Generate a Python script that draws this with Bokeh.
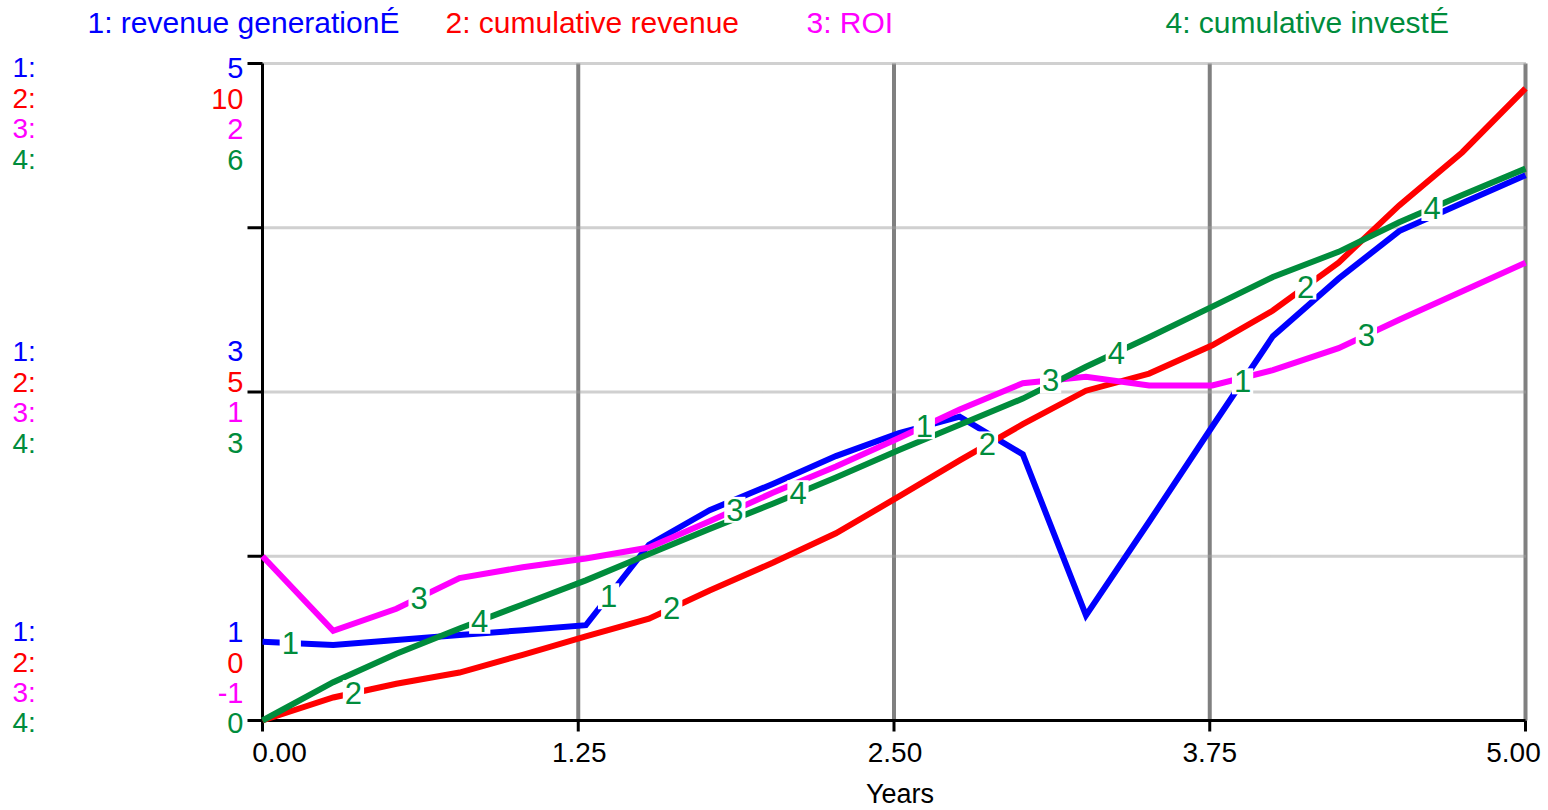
import numpy as np
from bokeh.plotting import figure
from bokeh.models import Range1d
from bokeh.core.properties import value
from bokeh.embed import file_html
from bokeh.resources import INLINE

FONT = "Liberation Sans"
BLUE, RED, MAGENTA, GREEN = "#0000ff", "#ff0000", "#ff00ff", "#008c3c"

# simulation output, one value per reporting step
years = [0.0, 0.28, 0.53, 0.78, 1.03, 1.28, 1.53, 1.77, 2.02, 2.27, 2.52,
         2.76, 3.01, 3.26, 3.51, 3.76, 4.0, 4.26, 4.5, 4.75, 5.0]
revenue_generation = [1.48, 1.46, 1.49, 1.52, 1.55, 1.58, 2.07, 2.28, 2.44, 2.61, 2.75,
                      2.85, 2.62, 1.64, 2.21, 2.79, 3.34, 3.69, 3.98, 4.15, 4.32]
cumulative_revenue = [0.0, 0.35, 0.56, 0.73, 1.0, 1.28, 1.55, 1.98, 2.40, 2.85, 3.41,
                      3.96, 4.51, 5.02, 5.28, 5.71, 6.24, 6.97, 7.84, 8.65, 9.62]
roi = [-0.25, -0.59, -0.49, -0.35, -0.30, -0.26, -0.21, -0.09, 0.04, 0.16, 0.29,
       0.42, 0.54, 0.57, 0.53, 0.53, 0.60, 0.70, 0.83, 0.96, 1.09]
cumulative_investment = [0.0, 0.35, 0.61, 0.84, 1.06, 1.28, 1.52, 1.75, 1.98, 2.22, 2.47,
                         2.70, 2.94, 3.23, 3.50, 3.78, 4.05, 4.28, 4.55, 4.80, 5.04]

series_titles = ["1: revenue generationÉ", "2: cumulative revenue", "3: ROI", "4: cumulative investÉ"]
series_keys = ["1:", "2:", "3:", "4:"]
series_colors = [BLUE, RED, MAGENTA, GREEN]
series_values = [revenue_generation, cumulative_revenue, roi, cumulative_investment]
series_scales = [(1, 5), (0, 10), (-1, 2), (0, 6)]
range_names = ["default", "cumrev", "roi", "inv"]
# scale labels shown at the top, middle and bottom of the vertical axis
scale_labels = [["5", "3", "1"], ["10", "5", "0"], ["2", "1", "-1"], ["6", "3", "0"]]
# where each curve carries its number tag (years)
tag_years = [[0.11, 1.37, 2.62, 3.88],
             [0.36, 1.62, 2.87, 4.13],
             [0.62, 1.87, 3.12, 4.37],
             [0.86, 2.12, 3.38, 4.63]]

x_ticks = [0.0, 1.25, 2.5, 3.75, 5.0]
x_tick_labels = ["0.00", "1.25", "2.50", "3.75", "5.00"]
y_ticks = [1, 2, 3, 4, 5]
scale_rows = [5, 3, 1]

# page geometry (pixels): the plotting area sits inside a full-canvas frame
W, H = 1548, 810
LEFT, RIGHT, TOP, BOTTOM = 262, 1525, 63, 720


def padded(lo, hi, a0, a1, b0, b1):
    """Range whose [lo, hi] lands on pixel span [a0, b0] of a canvas [a1, b1]."""
    per_px = (hi - lo) / (b0 - a0)
    return Range1d(lo - (a0 - a1) * per_px, hi + (b1 - b0) * per_px)


x_range = padded(0, 5, LEFT, 0, RIGHT, W)
y_ranges = [padded(lo, hi, H - BOTTOM, 0, H - TOP, H) for lo, hi in series_scales]
x_per_px = 5 / (RIGHT - LEFT)
y_per_px = (series_scales[0][1] - series_scales[0][0]) / (BOTTOM - TOP)
x_lo, x_hi = x_ticks[0], x_ticks[-1]
y_lo, y_hi = y_ticks[0], y_ticks[-1]

p = figure(width=W, height=H, output_backend="svg", toolbar_location=None,
           x_range=x_range, y_range=y_ranges[0],
           x_axis_type=None, y_axis_type=None, min_border=0)
p.extra_y_ranges = {name: rng for name, rng in zip(range_names[1:], y_ranges[1:])}
p.outline_line_color = None
p.background_fill_color = "white"
p.border_fill_color = "white"
p.xgrid.visible = False
p.ygrid.visible = False

# grid inside the plotting area
gx = x_ticks[1:]
p.segment(x0=gx, y0=[y_lo] * len(gx), x1=gx, y1=[y_hi] * len(gx),
          line_color="#808080", line_width=4)
gy = y_ticks[1:]
p.segment(x0=[x_lo] * len(gy), y0=gy, x1=[x_hi] * len(gy), y1=gy,
          line_color="#a0a0a0", line_width=3, line_dash="1 1")

# axis lines and outward ticks
p.segment(x0=[x_lo, x_lo], y0=[y_lo, y_lo], x1=[x_lo, x_hi], y1=[y_hi, y_lo],
          line_color="black", line_width=3)
p.segment(x0=[x_lo] * len(y_ticks), y0=y_ticks, x1=[x_lo - 15 * x_per_px] * len(y_ticks),
          y1=y_ticks, line_color="black", line_width=3)
p.segment(x0=x_ticks, y0=[y_lo] * len(x_ticks), x1=x_ticks,
          y1=[y_lo - 11 * y_per_px] * len(x_ticks), line_color="black", line_width=3)

# curves
for vals, color, rname in zip(series_values, series_colors, range_names):
    p.line(years, vals, color=color, line_width=6, line_join="miter", y_range_name=rname)

# number tags sitting on each curve
for k, (vals, rname) in enumerate(zip(series_values, range_names)):
    ty = np.interp(tag_years[k], years, vals)
    p.text(x=tag_years[k], y=list(ty), text=[str(k + 1)] * len(ty), y_range_name=rname,
           text_color=GREEN, text_font=value(FONT), text_font_size="31px",
           text_align="center", text_baseline="middle",
           background_fill_color="white", padding=2)

# stacked scale labels left of the vertical axis
row_shift = [[4, 35, 65, 96], [-41, -10, 20, 51], [-89, -58, -28, 2]]
for g, ypos in enumerate(scale_rows):
    for k in range(4):
        p.text(x=[x_lo], y=[ypos], text=[series_keys[k]], x_offset=12 - LEFT,
               y_offset=row_shift[g][k], text_color=series_colors[k],
               text_font=value(FONT), text_font_size="28px",
               text_align="left", text_baseline="middle")
        p.text(x=[x_lo], y=[ypos], text=[scale_labels[k][g]], x_offset=-19,
               y_offset=row_shift[g][k], text_color=series_colors[k],
               text_font=value(FONT), text_font_size="29px",
               text_align="right", text_baseline="middle")

# legend across the top
legend_x = [87, 445, 806, 1165]
for k in range(4):
    p.text(x=[x_lo], y=[y_hi], text=[series_titles[k]], x_offset=legend_x[k] - LEFT,
           y_offset=22 - TOP, text_color=series_colors[k], text_font=value(FONT),
           text_font_size="30px", text_align="left", text_baseline="middle")

# time axis labels
x_label_shift = [17, 1, 1, 0, -12]
p.text(x=x_ticks, y=[y_lo] * len(x_ticks), text=x_tick_labels, x_offset=x_label_shift,
       y_offset=32, text_color="black", text_font=value(FONT), text_font_size="28px",
       text_align="center", text_baseline="middle")
p.text(x=[2.5], y=[y_lo], text=["Years"], x_offset=6, y_offset=73, text_color="black",
       text_font=value(FONT), text_font_size="27px", text_align="center",
       text_baseline="middle")

open("out.html", "w").write(file_html(p, INLINE))
